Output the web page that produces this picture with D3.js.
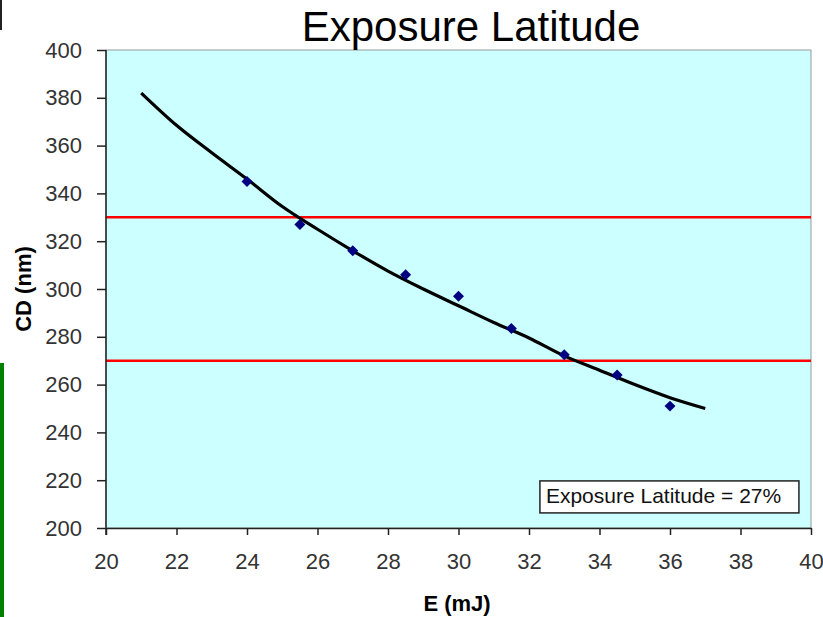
<!DOCTYPE html>
<html>
<head>
<meta charset="utf-8">
<script src="https://cdn.jsdelivr.net/npm/d3@7"></script>
<style>
  body { margin: 0; background: #fff; }
  svg text { font-family: Arial, "Liberation Sans", sans-serif; }
</style>
</head>
<body>
<div id="chart"></div>
<script>
var width = 823, height = 617;

// measured points
var energy = [24, 25.5, 27, 28.5, 30, 31.5, 33, 34.5, 36],
    cd = [345, 327, 316, 306, 297, 283.5, 272.5, 264, 251];

// fitted curve
var fitE = [21, 22, 23, 24, 25, 26, 27, 28, 29, 30, 31, 32, 33, 34, 35, 36, 37],
    fitCD = [382, 368.5, 357, 346, 334.5, 325, 316, 307.5, 300, 293, 286, 279.5, 272, 266, 260, 254.5, 250];

// spec limits
var limits = [330, 270];

var xTicks = [20, 22, 24, 26, 28, 30, 32, 34, 36, 38, 40],
    yTicks = [200, 220, 240, 260, 280, 300, 320, 340, 360, 380, 400];

var margin = {top: 50, right: 12, bottom: 89, left: 106},
    w = width - margin.left - margin.right,
    h = height - margin.top - margin.bottom;

var svg = d3.select("#chart").append("svg")
    .attr("width", width)
    .attr("height", height);

// bits of the slide around the chart
svg.append("rect").attr("x", 0).attr("y", 0).attr("width", 2).attr("height", 30).attr("fill", "#222");
svg.append("rect").attr("x", 0).attr("y", 363).attr("width", 4).attr("height", 254).attr("fill", "#008000");

var g = svg.append("g").attr("transform", "translate(" + margin.left + "," + margin.top + ")");

var x = d3.scaleLinear().range([0, w]).domain([20, 40]),
    y = d3.scaleLinear().range([h, 0]).domain([200, 400]);

g.append("rect")
    .attr("width", w)
    .attr("height", h)
    .attr("fill", "#ccffff")
    .attr("stroke", "#999")
    .attr("stroke-width", 1);

// limit lines
g.selectAll(".limit")
    .data(limits)
    .enter().append("line")
    .attr("class", "limit")
    .attr("x1", 0).attr("x2", w)
    .attr("y1", function(d) { return y(d); })
    .attr("y2", function(d) { return y(d); })
    .attr("stroke", "#ff0000")
    .attr("stroke-width", 2.5);

// fit line
var line = d3.line()
    .x(function(d, i) { return x(fitE[i]); })
    .y(function(d) { return y(d); })
    .curve(d3.curveMonotoneX);

g.append("path")
    .datum(fitCD)
    .attr("d", line)
    .attr("fill", "none")
    .attr("stroke", "#000")
    .attr("stroke-width", 3.2);

// points
g.selectAll(".pt")
    .data(cd)
    .enter().append("path")
    .attr("class", "pt")
    .attr("d", d3.symbol().type(d3.symbolSquare).size(60))
    .attr("transform", function(d, i) { return "translate(" + x(energy[i]) + "," + y(d) + ") rotate(45)"; })
    .attr("fill", "#000080");

// axes
var xAxis = d3.axisBottom(x).tickValues(xTicks).tickSize(7).tickPadding(18).tickSizeOuter(0),
    yAxis = d3.axisLeft(y).tickValues(yTicks).tickSize(9).tickPadding(15).tickSizeOuter(0);

var gx = g.append("g")
    .attr("transform", "translate(0," + h + ")")
    .call(xAxis);
var gy = g.append("g").call(yAxis);

[gx, gy].forEach(function(a) {
    a.selectAll("path").attr("stroke", "#222").attr("stroke-width", 1.5);
    a.selectAll("line").attr("stroke", "#222").attr("stroke-width", 1.5);
    a.selectAll("text").attr("font-size", 22).attr("fill", "#333")
        .attr("font-family", "Arial, 'Liberation Sans', sans-serif");
});
// y axis line runs down to the bottom tick
gy.select(".domain").attr("d", "M0,0V" + (h + 7));

// legend box
var lg = g.append("g").attr("transform", "translate(" + x(32.31) + "," + y(219.7) + ")");
lg.append("rect")
    .attr("width", 259).attr("height", 32)
    .attr("fill", "#fff").attr("stroke", "#222").attr("stroke-width", 1.5);
lg.append("text")
    .attr("x", 6).attr("y", 22)
    .attr("font-size", 21).attr("fill", "#111")
    .text("Exposure Latitude = 27%");

// titles
svg.append("text")
    .attr("x", 471).attr("y", 41)
    .attr("text-anchor", "middle")
    .attr("font-size", 42)
    .attr("fill", "#000")
    .text("Exposure Latitude");

svg.append("text")
    .attr("x", 457).attr("y", 611)
    .attr("text-anchor", "middle")
    .attr("font-size", 22)
    .attr("font-weight", "bold")
    .text("E (mJ)");

svg.append("text")
    .attr("transform", "translate(31,289) rotate(-90)")
    .attr("text-anchor", "middle")
    .attr("font-size", 22)
    .attr("font-weight", "bold")
    .text("CD (nm)");
</script>
</body>
</html>
